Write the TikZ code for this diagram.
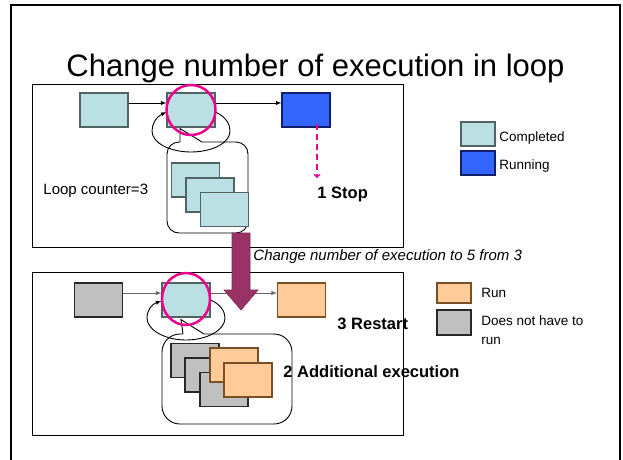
\documentclass[tikz,border=0pt]{standalone}
\usepackage{fontspec}
\setmainfont{Liberation Sans}
\usepackage{xcolor}
\definecolor{cDone}{RGB}{187,224,227}
\definecolor{cDoneLine}{RGB}{80,100,100}
\definecolor{cRunning}{RGB}{51,102,255}
\definecolor{cRunningLine}{RGB}{20,30,110}
\definecolor{cRun}{RGB}{255,204,153}
\definecolor{cRunLine}{RGB}{120,80,40}
\definecolor{cSkip}{RGB}{192,192,192}
\definecolor{cSkipLine}{RGB}{40,40,40}
\definecolor{cArrow}{RGB}{153,51,102}

\tikzset{
    box/.style={draw, line width=1.1pt, minimum width=48pt, minimum height=34pt, inner sep=0pt},
    key/.style={draw, line width=1.1pt, minimum width=34pt, minimum height=24pt, inner sep=0pt},
    fDone/.style={fill=cDone, draw=cDoneLine},
    fRunning/.style={fill=cRunning, draw=cRunningLine},
    fRun/.style={fill=cRun, draw=cRunLine},
    fSkip/.style={fill=cSkip, draw=cSkipLine},
    lbl/.style={font=\fontsize{15}{18}\selectfont, inner sep=0pt, anchor=base west},
    big/.style={font=\fontsize{16.5}{20}\selectfont\bfseries, inner sep=0pt, anchor=base west},
    leg/.style={font=\fontsize{13.5}{16}\selectfont, inner sep=0pt, anchor=base west},
    hilite/.style={magenta, line width=2.5pt}
}

\begin{document}
\begin{tikzpicture}[x=1pt,y=-1pt,line width=0.9pt]
    \useasboundingbox (0,0) rectangle (623,459);
    \draw[line width=2pt] (11,470) -- (11,5) -- (620,5) -- (620,470);
    \node[font=\fontsize{31}{36}\selectfont, inner sep=0pt, anchor=base] (title) at (315.5,76) {Change number of execution in loop};

    % before the change
    \draw (32,84) rectangle (403,247);
    \node[box, fDone] (u1) at (104,110) {};
    \node[box, fDone] (u2) at (191,110) {};
    \node[box, fRunning] (u3) at (306,110) {};
    \draw[rounded corners=12pt] (180,142) -- (167,142) -- (167,233) -- (248,233) -- (248,142) -- (202,142);
    \draw (180,142) -- ([xshift=-11pt,yshift=-1pt]u2.south) -- (202,142);
    \draw[-latex] ([yshift=7pt]u1.east) -- ([yshift=7pt]u2.west);
    \draw[-latex] ([yshift=7pt]u2.east) -- ([yshift=7pt]u3.west);
    \draw[-latex] ([yshift=-2pt]u2.east) .. controls (226,117) and (230,124) .. (230,131)
        .. controls (230,143) and (212,152) .. (191,152)
        .. controls (170,152) and (152,143) .. (152,131)
        .. controls (152,124) and (156,117) .. ([yshift=-2pt]u2.west);
    \node[box, fDone] (ua) at (195.5,180) {};
    \node[box, fDone] (ub) at (210,195) {};
    \node[box, fDone] (uc) at (224.5,209.5) {};
    \draw[hilite] (u2) ellipse [x radius=24.5, y radius=25];
    \coordinate (stoptip) at (317,178);
    \draw[magenta, line width=1.5pt, dash pattern=on 6pt off 4pt, ->] ([xshift=11pt,yshift=4pt]u3.south) -- (stoptip);
    \node[lbl] (counter) at (43,194) {Loop counter=3};
    \node[big] (stop) at (317,198) {1 Stop};

    % after the change
    \draw (32,272) rectangle (403,435);
    \node[box, fSkip] (l1) at (98.5,300) {};
    \node[box, fDone] (l2) at (186,300) {};
    \node[box, fRun] (l3) at (301.5,300) {};
    \draw[rounded corners=18pt] (183,334) -- (162,334) -- (162,424) -- (292,424) -- (292,334) -- (204,334);
    \draw (183,334) -- ([xshift=-5pt,yshift=-2pt]l2.south) -- (204,334);
    \draw[black!60, -latex] ([yshift=7pt]l1.east) -- ([yshift=7pt]l2.west);
    \draw[black!60, -latex] ([yshift=7pt]l2.east) -- ([yshift=7pt]l3.west);
    \draw[-latex] (l2.east) .. controls (220,304) and (225,311) .. (225,318)
        .. controls (225,330) and (207,340) .. (186,340)
        .. controls (165,340) and (147,330) .. (147,318)
        .. controls (147,310) and (152,304) .. ([yshift=-1pt]l2.west);
    \node[box, fSkip] (la) at (195,360.5) {};
    \node[box, fSkip] (lb) at (209,375) {};
    \node[box, fSkip] (lc) at (224,389.5) {};
    \node[box, fRun] (ld) at (234,365) {};
    \node[box, fRun] (le) at (248,380) {};
    \draw[hilite] ([yshift=1pt]l2) ellipse [x radius=24, y radius=26];
    \node[big] (restart) at (337,329) {3 Restart};
    \node[big] (extra) at (283,377) {2 Additional execution};

    % the change itself
    \filldraw[fill=cArrow, draw=cArrow!80!black, line width=0.6pt]
        (232,233) -- (250,233) -- (250,290) -- (258,290) -- (241,310) -- (224,290) -- (232,290) -- cycle;
    \node[lbl, font=\fontsize{15}{18}\selectfont\itshape] (change) at (253,260) {Change number of execution to 5 from 3};

    % legend
    \node[key, fDone] (kDone) at (478,134) {};
    \node[key, fRunning] (kRunning) at (478,163) {};
    \node[key, fRun, minimum height=20pt] (kRun) at (454,293) {};
    \node[key, fSkip, minimum height=25pt] (kSkip) at (454,322.5) {};
    \node[leg] (tDone) at (499,141) {Completed};
    \node[leg] (tRunning) at (499,169) {Running};
    \node[leg] (tRun) at (481,297) {Run};
    \node[leg] (tSkip) at (481,325) {Does not have to};
    \node[leg] (tSkip2) at (481,344) {run};
\end{tikzpicture}
\end{document}
